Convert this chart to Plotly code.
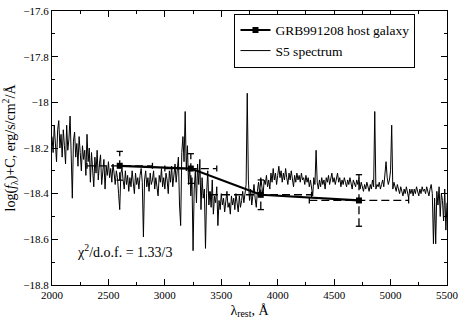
import numpy as np
import plotly.graph_objects as go

# S5 spectrum, sampled every 10 A from 2000 to 5500 A
spec_lam = np.arange(2000, 5501, 10)
spec_flux = [
    -18.15, -18.22, -18.10, -18.18, -18.26, -18.12, -18.08, -18.20, -18.14, -18.24,
    -18.12, -18.19, -18.27, -18.10, -18.21, -18.16, -18.06, -18.23, -18.42, -18.17,
    -18.13, -18.24, -18.18, -18.28, -18.15, -18.22, -18.30, -18.19, -18.25, -18.21,
    -18.32, -18.14, -18.26, -18.20, -18.35, -18.22, -18.28, -18.37, -18.24, -18.31,
    -18.21, -18.34, -18.27, -18.23, -18.36, -18.29, -18.25, -18.38, -18.28, -18.32,
    -18.26, -18.33, -18.29, -18.35, -18.27, -18.31, -18.36, -18.30, -18.33, -18.40,
    -18.47, -18.31, -18.29, -18.34, -18.38, -18.30, -18.36, -18.32, -18.39, -18.33,
    -18.37, -18.30, -18.35, -18.40, -18.31, -18.36, -18.33, -18.38, -18.32, -18.29,
    -18.35, -18.59, -18.34, -18.30, -18.37, -18.33, -18.39, -18.31, -18.36, -18.34,
    -18.30, -18.38, -18.33, -18.36, -18.41, -18.32, -18.35, -18.29, -18.37, -18.33,
    -18.38, -18.31, -18.34, -18.40, -18.30, -18.35, -18.28, -18.37, -18.32, -18.27,
    -18.35, -18.29, -18.24, -18.45, -18.54, -18.22, -18.15, -18.26, -18.04, -18.30,
    -18.19, -18.36, -18.28, -18.41, -18.33, -18.65, -18.38, -18.30, -18.44, -18.27,
    -18.36, -18.25, -18.47, -18.33, -18.42, -18.38, -18.64, -18.40, -18.30, -18.45,
    -18.39, -18.46, -18.34, -18.49, -18.41, -18.44, -18.37, -18.54, -18.43, -18.47,
    -18.40, -18.45, -18.42, -18.48, -18.43, -18.39, -18.46, -18.44, -18.49, -18.41,
    -18.45, -18.42, -18.47, -18.40, -18.44, -18.48, -18.41, -18.46, -18.43, -18.39,
    -18.44, -18.40, -18.36, -17.96, -18.34, -18.43, -18.38, -18.45, -18.41, -18.36,
    -18.42, -18.46, -18.39, -18.35, -18.40, -18.33, -18.37, -18.41, -18.34, -18.36,
    -18.32, -18.37, -18.34, -18.38, -18.31, -18.35, -18.29, -18.34, -18.31, -18.36,
    -18.32, -18.28, -18.33, -18.30, -18.35, -18.31, -18.34, -18.29, -18.33, -18.36,
    -18.31, -18.34, -18.30, -18.33, -18.37, -18.32, -18.35, -18.31, -18.34, -18.32,
    -18.35, -18.31, -18.34, -18.33, -18.36, -18.32, -18.35, -18.33, -18.37, -18.34,
    -18.38, -18.41, -18.33, -18.36, -18.21, -18.35, -18.38, -18.34, -18.37, -18.33,
    -18.36, -18.34, -18.38, -18.33, -18.35, -18.32, -18.36, -18.34, -18.31, -18.35,
    -18.33, -18.36, -18.34, -18.31, -18.35, -18.33, -18.37, -18.34, -18.36, -18.33,
    -18.35, -18.37, -18.34, -18.36, -18.33, -18.35, -18.38, -18.34, -18.36, -18.37,
    -18.34, -18.36, -18.33, -18.38, -18.35, -18.37, -18.39, -18.36, -18.38, -18.35,
    -18.37, -18.39, -18.36, -18.38, -18.34, -18.37, -18.04, -18.38, -18.36, -18.37,
    -18.35, -18.38, -18.36, -18.34, -18.37, -18.30, -18.26, -18.33, -18.36, -18.34,
    -18.30, -18.10, -18.38, -18.35, -18.37, -18.39, -18.36, -18.38, -18.40, -18.37,
    -18.39, -18.41, -18.38, -18.40, -18.37, -18.39, -18.42, -18.38, -18.40, -18.38,
    -18.41, -18.38, -18.40, -18.37, -18.39, -18.41, -18.38, -18.40, -18.37, -18.39,
    -18.38, -18.40, -18.37, -18.39, -18.41, -18.38, -18.36, -18.40, -18.62, -18.42,
    -18.62, -18.39, -18.45, -18.37, -18.50, -18.40, -18.43, -18.52, -18.38, -18.56,
    -18.44,
]

# GRB991208 host galaxy photometry
host_lam = [2600, 3230, 3850, 4720]
host_flux = [-18.278, -18.29, -18.405, -18.43]
host_lam_err = [290, 230, 450, 440]
host_flux_err = [0.063, 0.065, 0.065, 0.113]

CAP_X = 28      # half width of caps on vertical bars (A)
CAP_Y = 0.013   # half height of caps on horizontal bars

serif = "Liberation Serif, Times New Roman, serif"

# dashed error bars + solid caps, built from the host arrays
bx, by, cx, cy = [], [], [], []
for x, y, dx, dy in zip(host_lam, host_flux, host_lam_err, host_flux_err):
    bx += [x - dx, x + dx, None, x, x, None]
    by += [y, y, None, y - dy, y + dy, None]
    for xe in (x - dx, x + dx):
        cx += [xe, xe, None]
        cy += [y - CAP_Y, y + CAP_Y, None]
    for ye in (y - dy, y + dy):
        cx += [x - CAP_X, x + CAP_X, None]
        cy += [ye, ye, None]

fig = go.Figure()

fig.add_trace(go.Scatter(x=spec_lam, y=spec_flux, mode="lines", name="S5 spectrum",
                         line=dict(color="black", width=1)))
fig.add_trace(go.Scatter(x=bx, y=by, mode="lines", showlegend=False, hoverinfo="skip",
                         line=dict(color="black", width=1.3, dash="8px,4px")))
fig.add_trace(go.Scatter(x=cx, y=cy, mode="lines", showlegend=False, hoverinfo="skip",
                         line=dict(color="black", width=1.3)))
fig.add_trace(go.Scatter(x=host_lam, y=host_flux, mode="lines+markers",
                         name="GRB991208 host galaxy",
                         line=dict(color="black", width=2.2),
                         marker=dict(symbol="square", size=6, color="black")))

axis_common = dict(showline=True, linecolor="black", linewidth=1, mirror="allticks",
                   ticks="inside", ticklen=6, tickcolor="black", showgrid=False,
                   zeroline=False, ticklabeloverflow="allow",
                   tickfont=dict(family=serif, size=11, color="black"))

fig.update_layout(
    width=463, height=328,
    margin=dict(l=52, r=12, t=5, b=43),
    paper_bgcolor="white", plot_bgcolor="white",
    font=dict(family=serif, color="black"),
    xaxis=dict(range=[1999.9, 5500.1], tickvals=[2000, 2500, 3000, 3500, 4000, 4500, 5000, 5500],
               minor=dict(ticks="inside", ticklen=3, dtick=250, tickcolor="black"),
               title=dict(text="λ<sub>rest</sub>, Å", font=dict(family=serif, size=14),
                          standoff=4),
               **axis_common),
    yaxis=dict(range=[-18.8005, -17.5995],
               tickvals=[-18.8, -18.6, -18.4, -18.2, -18.0, -17.8, -17.6],
               ticktext=["−18.8", "−18.6", "−18.4", "−18.2", "−18", "−17.8", "−17.6"],
               minor=dict(ticks="inside", ticklen=3, dtick=0.1, tickcolor="black"),
               title=dict(text="log(<i>f</i><sub>λ</sub>)+C, erg/s/cm<sup>2</sup>/Å",
                          font=dict(family=serif, size=14), standoff=4),
               **axis_common),
    legend=dict(x=0.462, y=0.99, xanchor="left", yanchor="top",
                bordercolor="black", borderwidth=1, bgcolor="white",
                font=dict(family=serif, size=13.5), tracegroupgap=0,
                traceorder="reversed", itemwidth=30),
    annotations=[dict(x=2200, y=-18.65, xref="x", yref="y", xanchor="left",
                      text="χ<sup>2</sup>/d.o.f. = 1.33/3", showarrow=False,
                      font=dict(family=serif, size=14, color="black"))],
)

fig.write_html("out.html", config={"displayModeBar": False},
               post_script="document.body.style.margin='0';")
